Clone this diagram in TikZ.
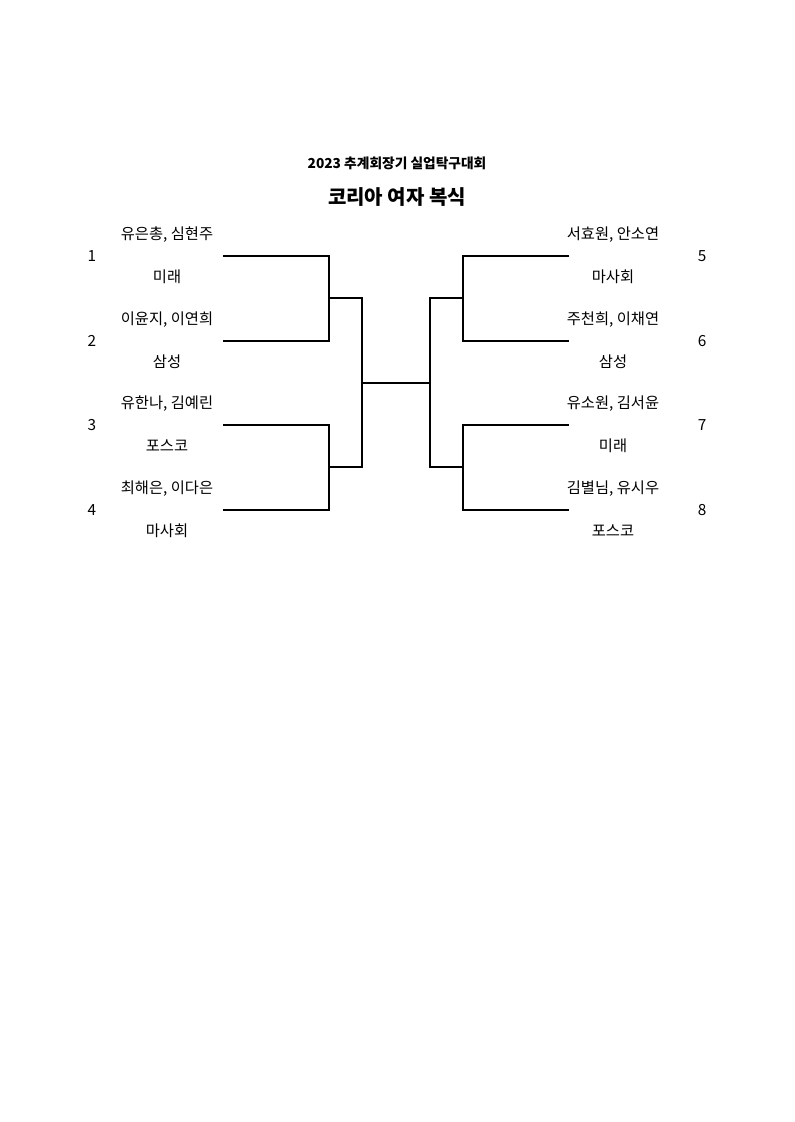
\documentclass[tikz,border=0pt]{standalone}
\usepackage{fontspec}
\setmainfont{Noto Sans CJK KR}
\begin{document}
\begin{tikzpicture}[x=0.75pt,y=-0.75pt,
    entry/.style={font=\fontsize{11.5}{13}\selectfont, inner sep=0pt},
    bracket/.style={line width=1.1pt}]
    \useasboundingbox (0,0) rectangle (794,1122);
    % titles
    \node[font=\bfseries\fontsize{10.3}{12}\selectfont] (cup) at (397,163) {2023 추계회장기 실업탁구대회};
    \node[font=\bfseries\fontsize{15}{17}\selectfont] (event) at (397,197) {코리아 여자 복식};
    % left half: seeds 1-4
    \foreach \n/\y/\who/\club in {1/256/{유은총, 심현주}/미래, 2/341/{이윤지, 이연희}/삼성,
                                   3/425/{유한나, 김예린}/포스코, 4/510/{최해은, 이다은}/마사회} {
        \node[entry] (seed\n) at (92,\y) {\n};
        \node[entry] (pair\n) at (167,{\y-21}) {\who};
        \node[entry] (club\n) at (167,{\y+21}) {\club};
        \coordinate (line\n) at (223,\y);
    }
    % right half: seeds 5-8
    \foreach \n/\y/\who/\club in {5/256/{서효원, 안소연}/마사회, 6/341/{주천희, 이채연}/삼성,
                                   7/425/{유소원, 김서윤}/미래, 8/510/{김별님, 유시우}/포스코} {
        \node[entry] (seed\n) at (702,\y) {\n};
        \node[entry] (pair\n) at (613,{\y-21}) {\who};
        \node[entry] (club\n) at (613,{\y+21}) {\club};
        \coordinate (line\n) at (569,\y);
    }
    % rounds
    \coordinate (qf12) at (329,298);
    \coordinate (qf34) at (329,467);
    \coordinate (qf56) at (463,298);
    \coordinate (qf78) at (463,467);
    \coordinate (sfL) at (362,383);
    \coordinate (sfR) at (430,383);
    \draw[bracket] (line1) -| (qf12) |- (line2);
    \draw[bracket] (line3) -| (qf34) |- (line4);
    \draw[bracket] (line5) -| (qf56) |- (line6);
    \draw[bracket] (line7) -| (qf78) |- (line8);
    \draw[bracket] (qf12) -| (sfL) |- (qf34);
    \draw[bracket] (qf56) -| (sfR) |- (qf78);
    \draw[bracket] (sfL) -- (sfR);
\end{tikzpicture}
\end{document}
